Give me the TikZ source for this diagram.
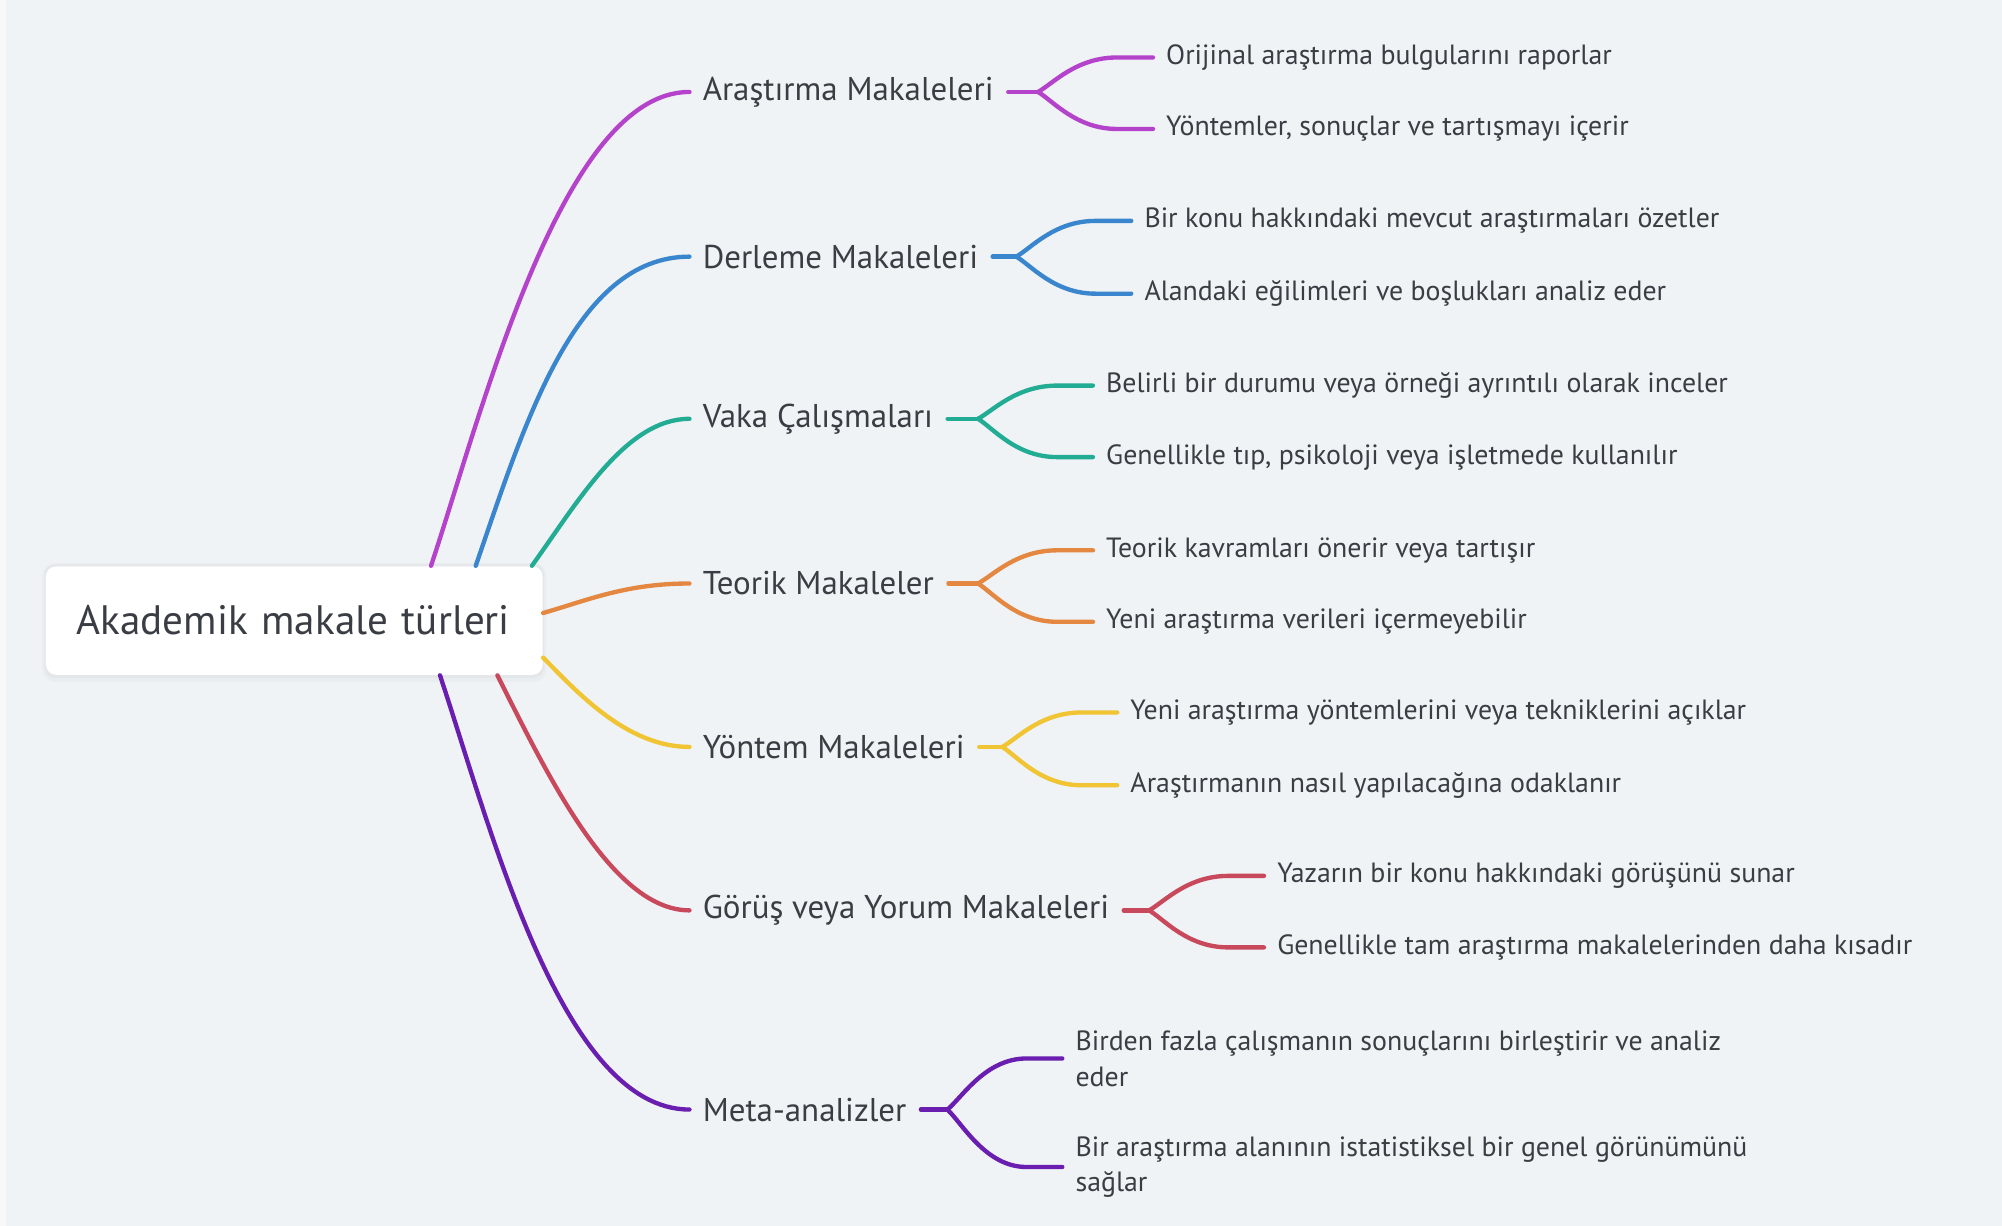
\documentclass[tikz,border=0pt]{standalone}
\usepackage{fontspec}
\setmainfont{PT Sans}
\usetikzlibrary{calc}
\definecolor{bg}{RGB}{239,243,246}
\definecolor{strip}{RGB}{248,248,248}
\definecolor{txt}{RGB}{58,62,68}
\definecolor{cpur}{RGB}{180,66,202}
\definecolor{cblu}{RGB}{58,134,206}
\definecolor{ctea}{RGB}{34,172,148}
\definecolor{cora}{RGB}{228,135,64}
\definecolor{cyel}{RGB}{240,196,50}
\definecolor{cred}{RGB}{200,72,92}
\definecolor{cvio}{RGB}{106,30,176}
\tikzset{
  lone/.style={anchor=west,inner xsep=5pt,inner ysep=2pt,text=txt,font=\fontsize{12.9}{15}\selectfont},
  leaf/.style={anchor=west,inner xsep=5pt,inner ysep=2pt,text=txt,align=left,font=\fontsize{10.9}{14}\selectfont},
  conn/.style={line width=1.7pt,line cap=round}
}
\begin{document}
\begin{tikzpicture}[x=0.5pt,y=-0.5pt]
\useasboundingbox (0,0) rectangle (1568,960);
\fill[bg] (0,0) rectangle (1568,960);
\fill[strip] (0,0) rectangle (4.7,960);
% shadow
\fill[black,opacity=0.025,rounded corners=5pt] (33,441) rectangle (428,534);
\fill[black,opacity=0.025,rounded corners=4pt] (35,442) rectangle (426,531);
\node[fill=white,rounded corners=4pt,minimum width=194.5pt,minimum height=42.5pt,inner xsep=12pt,text width=170.5pt,align=left,text=txt,font=\fontsize{16.1}{19}\selectfont] (root) at (230.5,486) {\mbox{Akademik makale türleri}};

% level one
\node[lone] (l1) at (540,72) {Araştırma Makaleleri};
\node[lone] (l2) at (540,201) {Derleme Makaleleri};
\node[lone] (l3) at (540,328) {Vaka Çalışmaları};
\node[lone] (l4) at (540,457) {Teorik Makaleler};
\node[lone] (l5) at (540,585) {Yöntem Makaleleri};
\node[lone] (l6) at (540,713) {Görüş veya Yorum Makaleleri};
\node[lone] (l7) at (540,869) {Meta-analizler};

% leaves
\node[leaf] (a1) at (903,45) {Orijinal araştırma bulgularını raporlar};
\node[leaf] (a2) at (903,101) {Yöntemler, sonuçlar ve tartışmayı içerir};
\node[leaf] (b1) at (886,173) {Bir konu hakkındaki mevcut araştırmaları özetler};
\node[leaf] (b2) at (886,230) {Alandaki eğilimleri ve boşlukları analiz eder};
\node[leaf] (c1) at (856,302) {Belirli bir durumu veya örneği ayrıntılı olarak inceler};
\node[leaf] (c2) at (856,358) {Genellikle tıp, psikoloji veya işletmede kullanılır};
\node[leaf] (d1) at (856,431) {Teorik kavramları önerir veya tartışır};
\node[leaf] (d2) at (856,487) {Yeni araştırma verileri içermeyebilir};
\node[leaf] (e1) at (875,558) {Yeni araştırma yöntemlerini veya tekniklerini açıklar};
\node[leaf] (e2) at (875,615) {Araştırmanın nasıl yapılacağına odaklanır};
\node[leaf] (f1) at (990,686) {Yazarın bir konu hakkındaki görüşünü sunar};
\node[leaf] (f2) at (990,742) {Genellikle tam araştırma makalelerinden daha kısadır};
\node[leaf] (g1) at (832,829) {Birden fazla çalışmanın sonuçlarını birleştirir ve analiz\\eder};
\node[leaf] (g2) at (832,914) {Bir araştırma alanının istatistiksel bir genel görünümünü\\sağlar};

% root exits
\coordinate (s1) at ($(root.north west)+(302,0)$);
\coordinate (s2) at ($(root.north west)+(337,0)$);
\coordinate (s3) at ($(root.north west)+(381,0)$);
\coordinate (s4) at ($(root.north east)+(0,37)$);
\coordinate (s5) at ($(root.north east)+(0,72)$);
\coordinate (s6) at ($(root.south west)+(354,0)$);
\coordinate (s7) at ($(root.south west)+(309,0)$);

\draw[conn,cpur] (s1) .. controls ($(s1)+(40,-120)$) and ($(l1.west)+(-100,0)$) .. (l1.west);
\draw[conn,cblu] (s2) .. controls ($(s2)+(38,-110)$) and ($(l2.west)+(-90,0)$) .. (l2.west);
\draw[conn,ctea] (s3) .. controls ($(s3)+(36,-50)$) and ($(l3.west)+(-50,0)$) .. (l3.west);
\draw[conn,cora] (s4) .. controls ($(s4)+(35,-10)$) and ($(l4.west)+(-50,0)$) .. (l4.west);
\draw[conn,cyel] (s5) .. controls ($(s5)+(25,25)$) and ($(l5.west)+(-50,0)$) .. (l5.west);
\draw[conn,cred] (s6) .. controls ($(s6)+(40,80)$) and ($(l6.west)+(-60,0)$) .. (l6.west);
\draw[conn,cvio] (s7) .. controls ($(s7)+(40,120)$) and ($(l7.west)+(-100,0)$) .. (l7.west);

% forks
\foreach \p/\a/\b/\c in {l1/a1/a2/cpur, l2/b1/b2/cblu, l3/c1/c2/ctea, l4/d1/d2/cora, l5/e1/e2/cyel, l6/f1/f2/cred, l7/g1/g2/cvio}{
  \coordinate (fk) at ($(\a.west |- \p.east)+(-90,0)$);
  \draw[conn,\c] ($(\p.east)+(1,0)$) -- (fk);
  \draw[conn,\c] (fk) .. controls ($(fk)!0.25!(fk |- \a.west)+(12,0)$) and ($(\a.west)+(-60,0)$) .. ($(\a.west)+(-28,0)$) -- (\a.west);
  \draw[conn,\c] (fk) .. controls ($(fk)!0.25!(fk |- \b.west)+(12,0)$) and ($(\b.west)+(-60,0)$) .. ($(\b.west)+(-28,0)$) -- (\b.west);
}
\end{tikzpicture}
\end{document}
